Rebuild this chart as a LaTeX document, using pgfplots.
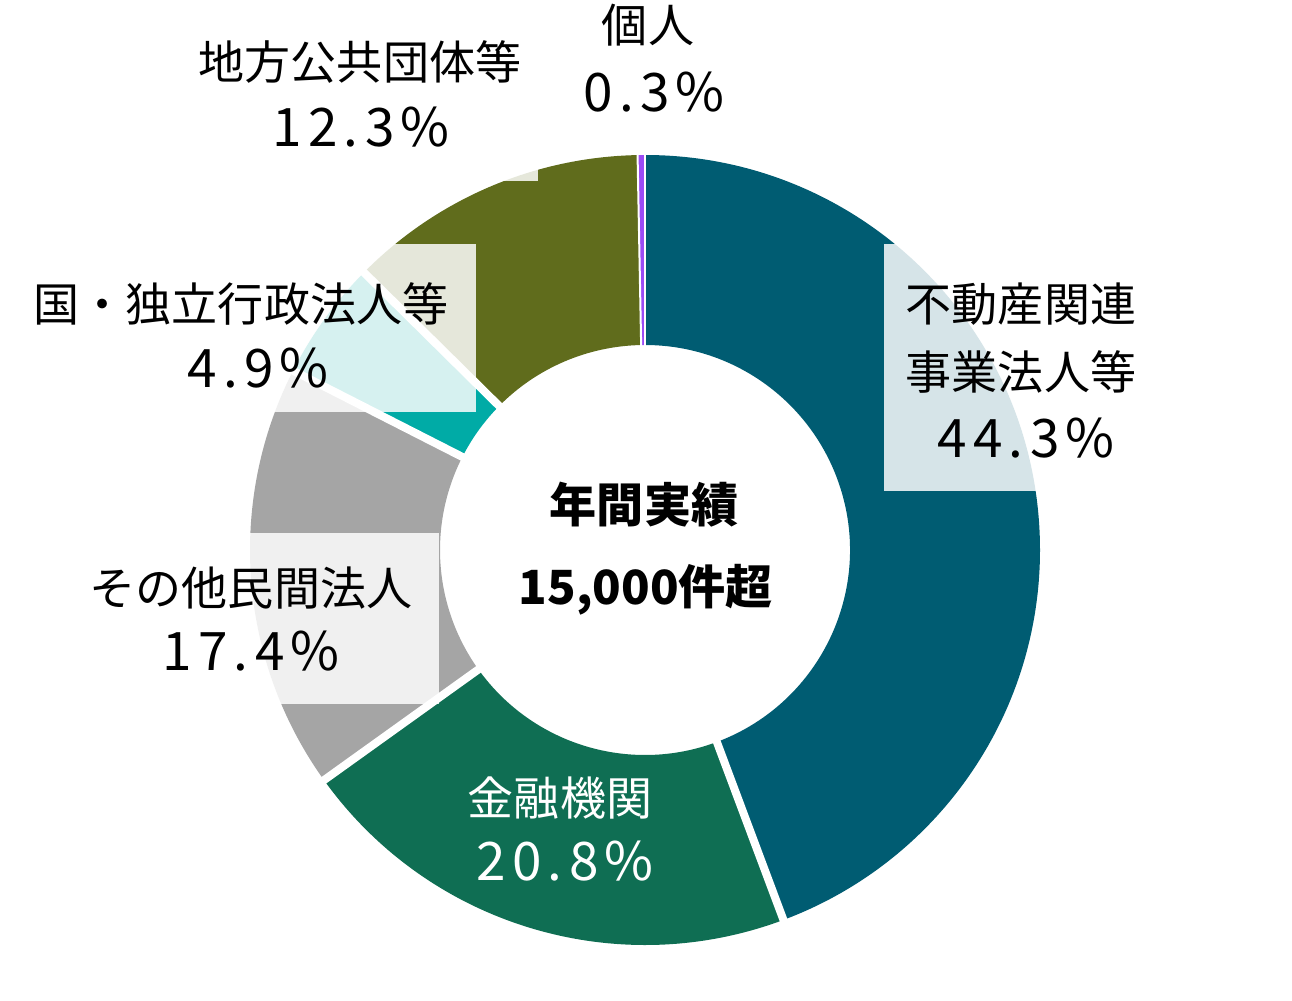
\documentclass[border=0pt]{standalone}
\usepackage{fontspec}
\setmainfont{Noto Sans CJK JP}
\newfontfamily\numfont[LetterSpace=12]{Noto Sans CJK JP}
\usepackage{pgfplots}
\usepackage{pgfplotstable}
\pgfplotsset{compat=1.18}

\definecolor{cFudo}{HTML}{005C72}
\definecolor{cKinyu}{HTML}{0F6E53}
\definecolor{cSonota}{HTML}{A5A5A5}
\definecolor{cKuni}{HTML}{00ABA6}
\definecolor{cChiho}{HTML}{606C1C}
\definecolor{cKojin}{HTML}{9B4BF5}

% share (%), colour, white gap after the slice (mm)
\pgfplotstableread{
share col gap
44.3 cFudo 0.8
20.8 cKinyu 0.8
17.4 cSonota 0.8
4.9 cKuni 0.8
12.3 cChiho 0.2
0.3 cKojin 0.2
}\shares

\newcommand\lab{\fontsize{13.1}{15}\selectfont}
\newcommand\num{\fontsize{15.1}{17}\selectfont\numfont}
\newcommand\ctr{\fontsize{13.4}{16}\selectfont\bfseries}

\begin{document}
\begin{tikzpicture}[every node/.style={inner sep=0pt, outer sep=0pt}]
\begin{axis}[x=0.1mm, y=0.1mm, xmin=0, xmax=1292, ymin=0, ymax=1000,
  hide axis, clip=false]
\path (axis cs:0,0) rectangle (axis cs:1292,1000);
\def\cx{645}\def\cy{450}\def\R{395}\def\r{205}
\def\cum{0}
% slices
\pgfplotsforeachungrouped \i in {0,...,5}{%
  \pgfplotstablegetelem{\i}{share}\of\shares \let\v\pgfplotsretval
  \pgfplotstablegetelem{\i}{col}\of\shares \let\slicecol\pgfplotsretval
  \pgfmathsetmacro\aA{90-3.6*\cum}
  \pgfmathsetmacro\aB{90-3.6*(\cum+\v)}
  \pgfmathsetmacro\xo{\cx+\R*cos(\aA)}
  \pgfmathsetmacro\yo{\cy+\R*sin(\aA)}
  \pgfmathsetmacro\xi{\cx+\r*cos(\aB)}
  \pgfmathsetmacro\yi{\cy+\r*sin(\aB)}
  \edef\cmd{\noexpand\fill[\slicecol] (axis cs:\xo,\yo)
    arc[start angle=\aA, end angle=\aB, radius=39.5mm]
    -- (axis cs:\xi,\yi)
    arc[start angle=\aB, end angle=\aA, radius=20.5mm] -- cycle;}
  \cmd
  \pgfmathsetmacro\cum{\cum+\v}
}
% white separators
\def\cum{0}
\pgfplotsforeachungrouped \i in {0,...,5}{%
  \pgfplotstablegetelem{\i}{share}\of\shares \let\v\pgfplotsretval
  \pgfplotstablegetelem{\i}{gap}\of\shares \let\g\pgfplotsretval
  \pgfmathsetmacro\cum{\cum+\v}
  \pgfmathsetmacro\aB{90-3.6*\cum}
  \pgfmathsetmacro\xo{\cx+(\R+8)*cos(\aB)}
  \pgfmathsetmacro\yo{\cy+(\R+8)*sin(\aB)}
  \pgfmathsetmacro\xi{\cx+(\r-8)*cos(\aB)}
  \pgfmathsetmacro\yi{\cy+(\r-8)*sin(\aB)}
  \edef\cmd{\noexpand\draw[white, line width=\g mm] (axis cs:\xi,\yi) -- (axis cs:\xo,\yo);}
  \cmd
}
% label backgrounds
\fill[white, opacity=0.84] (axis cs:884,509) rectangle (axis cs:1100,756);
\fill[white, opacity=0.84] (axis cs:150,296) rectangle (axis cs:439,467);
\fill[white, opacity=0.84] (axis cs:150,588) rectangle (axis cs:476,756);
\fill[white, opacity=0.84] (axis cs:300,819) rectangle (axis cs:538,900);
% labels
\node[anchor=base, font=\lab] at (axis cs:648,957) {個人};
\node[anchor=base, font=\num] at (axis cs:654,888) {0.3\%};
\node[anchor=base, font=\lab] at (axis cs:360,920) {地方公共団体等};
\node[anchor=base, font=\num] at (axis cs:361,853) {12.3\%};
\node[anchor=base, font=\lab] at (axis cs:241,678) {国・独立行政法人等};
\node[anchor=base, font=\num] at (axis cs:258,613) {4.9\%};
\node[anchor=base, font=\lab] at (axis cs:1021,678) {不動産関連};
\node[anchor=base, font=\lab] at (axis cs:1021,611) {事業法人等};
\node[anchor=base, font=\num] at (axis cs:1026,543) {44.3\%};
\node[anchor=base, font=\lab] at (axis cs:251,395) {その他民間法人};
\node[anchor=base, font=\num] at (axis cs:251,330) {17.4\%};
\node[anchor=base, font=\lab, text=white] at (axis cs:560,185) {金融機関};
\node[anchor=base, font=\num, text=white] at (axis cs:565,120) {20.8\%};
\node[anchor=base, font=\ctr] at (axis cs:644,478) {年間実績};
\node[anchor=base, font=\ctr] at (axis cs:646,396) {15,000件超};
\end{axis}
\end{tikzpicture}
\end{document}
